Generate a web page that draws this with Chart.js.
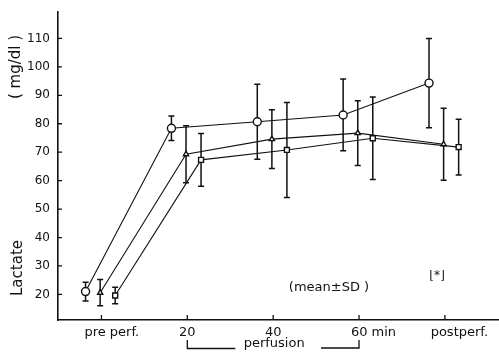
<!DOCTYPE html>
<html>
<head>
<meta charset="utf-8">
<script src="https://cdn.jsdelivr.net/npm/chart.js@4/dist/chart.umd.min.js"></script>
<style>
  html, body { margin: 0; padding: 0; background: #fff; }
</style>
</head>
<body>
<canvas id="chart" width="499" height="352"></canvas>
<script>
// x categories (sampling times) and y ticks
const tickLabels = ["pre perf.", "20", "40", "60", "postperf."];
const yTicks = [20, 30, 40, 50, 60, 70, 80, 90, 100, 110];

// lactate, mg/dl, mean and SD per group
const circleMean = [21.0, 78.4, 80.7, 83.1, 94.3];
const circleSd = [3.3, 4.3, 13.2, 12.6, 15.7];
const triangleMean = [20.6, 69.3, 74.6, 76.7, 72.8];
const triangleSd = [4.6, 10.0, 10.3, 11.4, 12.7];
const squareMean = [19.6, 67.3, 70.8, 74.9, 71.8];
const squareSd = [2.9, 9.3, 16.7, 14.5, 9.8];

const INK = "#111";
const FONT = "DejaVu Sans";

// leading spaces nudge some labels off their tick like in the print
const labelPad = ["     ", "", "", "       ", "       "];
const labelTail = ["", "", "", " min", ""];

function points(mean, shift) {
	return mean.map((v, i) => ({ x: i + shift, y: v }));
}

function series(mean, sd, shift, style, radius) {
	return {
		data: points(mean, shift),
		sd: sd,
		showLine: true,
		borderColor: INK,
		borderWidth: 1.1,
		pointStyle: style,
		pointRadius: radius,
		pointBorderWidth: 1.4,
		pointBorderColor: INK,
		pointBackgroundColor: "#fff",
	};
}

const extras = {
	id: "extras",
	beforeDatasetsDraw(chart) {
		const { ctx, scales: { x, y } } = chart;
		ctx.save();
		ctx.strokeStyle = INK;
		ctx.lineWidth = 1.5;
		for (const ds of chart.data.datasets) {
			ds.data.forEach((p, i) => {
				const px = x.getPixelForValue(p.x);
				const top = y.getPixelForValue(p.y + ds.sd[i]);
				const bot = y.getPixelForValue(p.y - ds.sd[i]);
				ctx.beginPath();
				ctx.moveTo(px, top);
				ctx.lineTo(px, bot);
				ctx.moveTo(px - 3, top);
				ctx.lineTo(px + 3, top);
				ctx.moveTo(px - 3, bot);
				ctx.lineTo(px + 3, bot);
				ctx.stroke();
			});
		}
		ctx.restore();
	},
	afterDraw(chart) {
		const { ctx, chartArea: area, scales: { x, y } } = chart;
		ctx.save();
		ctx.strokeStyle = INK;
		ctx.fillStyle = INK;
		ctx.lineWidth = 1.3;

		// inward tick marks
		ctx.beginPath();
		for (const v of yTicks) {
			const py = y.getPixelForValue(v);
			ctx.moveTo(area.left, py);
			ctx.lineTo(area.left + 4, py);
		}
		tickLabels.forEach((_, i) => {
			const px = x.getPixelForValue(i);
			ctx.moveTo(px, area.bottom);
			ctx.lineTo(px, area.bottom - 5);
		});
		ctx.stroke();

		// axis titles, rotated
		ctx.textAlign = "center";
		ctx.textBaseline = "middle";
		ctx.font = "15px " + FONT;
		ctx.save();
		ctx.translate(16, 67);
		ctx.rotate(-Math.PI / 2);
		ctx.fillText("( mg/dl )", 0, 0);
		ctx.restore();
		ctx.save();
		ctx.translate(18, 268);
		ctx.rotate(-Math.PI / 2);
		ctx.fillText("Lactate", 0, 0);
		ctx.restore();

		ctx.font = "13px " + FONT;
		ctx.fillText("(mean\u00b1SD )", 329, 288);
		ctx.font = "12px " + FONT;
		ctx.fillText("\u230a*\u230b", 437, 276);

		// perfusion bracket under 20..60 min
		const x20 = x.getPixelForValue(1);
		const x60 = x.getPixelForValue(3);
		ctx.font = "13px " + FONT;
		ctx.fillText("perfusion", (x20 + x60) / 2 + 1, 344);
		ctx.beginPath();
		ctx.moveTo(x20, 340);
		ctx.lineTo(x20, 348.5);
		ctx.lineTo(x20 + 48, 348.5);
		ctx.moveTo(x60 - 38, 348);
		ctx.lineTo(x60, 348);
		ctx.lineTo(x60, 340);
		ctx.stroke();
		ctx.restore();
	},
};

new Chart(document.querySelector("#chart"), {
	type: "line",
	data: {
		datasets: [
			series(circleMean, circleSd, -0.185, "circle", 4),
			series(triangleMean, triangleSd, -0.015, "triangle", 3),
			series(squareMean, squareSd, 0.16, "rect", 3.5),
		],
	},
	options: {
		responsive: false,
		animation: false,
		layout: {
			autoPadding: false,
			padding: { top: 12, left: 0, right: 0, bottom: 0 },
		},
		plugins: {
			legend: { display: false },
			tooltip: { enabled: false },
		},
		scales: {
			x: {
				type: "linear",
				min: -0.506,
				max: 4.63,
				afterBuildTicks: (axis) => {
					axis.ticks = tickLabels.map((_, i) => ({ value: i }));
				},
				afterFit: (scale) => {
					scale.height = 32;
					scale.paddingLeft = 0;
					scale.paddingRight = 0;
				},
				ticks: {
					autoSkip: false,
					maxRotation: 0,
					padding: 5,
					color: INK,
					font: { family: FONT, size: 13 },
					callback: (v, i) => labelPad[i] + tickLabels[i] + labelTail[i],
				},
				grid: { drawOnChartArea: false, drawTicks: false },
				border: { color: INK, width: 1.6 },
			},
			y: {
				min: 11,
				max: 119.3,
				afterBuildTicks: (axis) => {
					axis.ticks = yTicks.map((v) => ({ value: v }));
				},
				afterFit: (scale) => {
					scale.width = 58;
					scale.paddingTop = 0;
					scale.paddingBottom = 0;
				},
				ticks: {
					padding: 8,
					color: INK,
					font: { family: FONT, size: 12 },
				},
				grid: { drawOnChartArea: false, drawTicks: false },
				border: { color: INK, width: 1.6 },
			},
		},
	},
	plugins: [extras],
});
</script>
</body>
</html>
